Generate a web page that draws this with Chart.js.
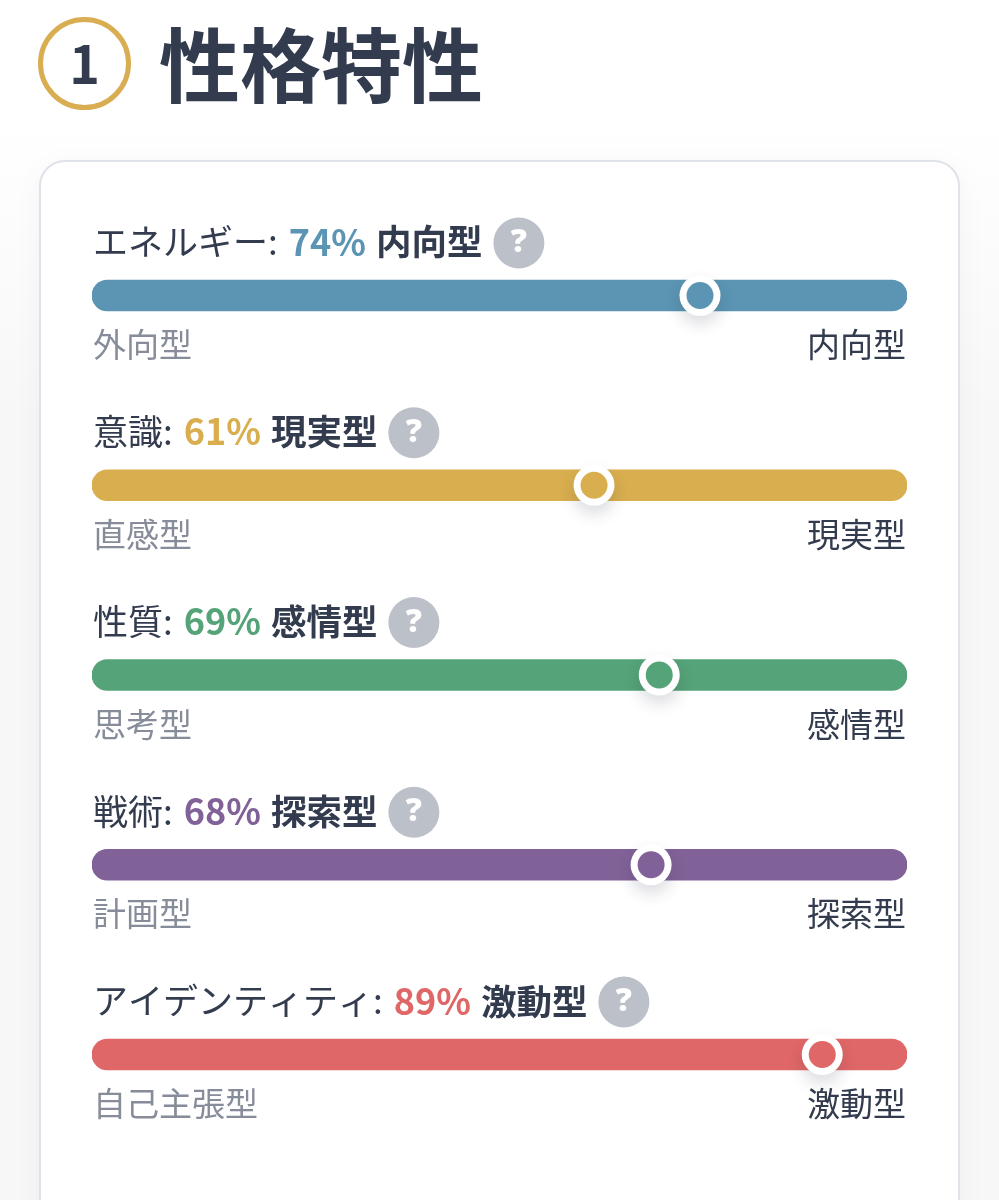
<!DOCTYPE html>
<html lang="ja">
<head>
<meta charset="utf-8">
<title>性格特性</title>
<script src="https://cdn.jsdelivr.net/npm/chart.js@4"></script>
<style>
  html, body { margin:0; padding:0; }
  body { width:999px; height:1200px; overflow:hidden; position:relative; font-family:"Noto Sans CJK JP", sans-serif;
    background:linear-gradient(#fff 0, #fff 120px, #f7f7f8 420px); }
  .badge { position:absolute; left:38px; top:17px; width:83px; height:83px; border:5px solid #d9ae52; border-radius:50%;
    text-align:center; line-height:80px; font-size:52px; font-weight:700; color:#333c4e; }
  h1 { position:absolute; left:159px; top:8px; margin:0; font-size:81px; line-height:106px; font-weight:700; color:#333c4e; }
  .card { position:absolute; left:39px; top:160px; width:917px; height:1100px; background:#fff; border:2px solid #dfe2e8;
    border-radius:26px; box-shadow:0 6px 30px rgba(40,50,70,.04); }
  canvas { position:absolute; left:0; top:0; }
</style>
</head>
<body>
<div class="badge">1</div>
<h1>性格特性</h1>
<div class="card"></div>
<canvas id="chart" width="999" height="1200"></canvas>
<script>
const traits = ['エネルギー','意識','性質','戦術','アイデンティティ'];
const values = [74,61,69,68,89];
const resultLabels = ['内向型','現実型','感情型','探索型','激動型'];
const leftLabels = ['外向型','直感型','思考型','計画型','自己主張型'];
const rightLabels = ['内向型','現実型','感情型','探索型','激動型'];
const colors = ['#5b95b3','#d9ae4f','#55a378','#816298','#e06767'];

const axisMin = -0.6, axisMax = 99.4;
const font = '"Noto Sans CJK JP", sans-serif';
const ink = '#333c4e';

// row captions and end labels, placed from the chart's own scales
const rowText = {
  id:'rowText',
  afterDraw(chart){
    const ctx = chart.ctx, x = chart.scales.x, y = chart.scales.y;
    ctx.save();
    ctx.textBaseline = 'middle';
    traits.forEach((t,i) => {
      const cy = y.getPixelForValue(i);
      const capY = cy - 53.5;
      let px = x.left + 1;
      const run = (txt, f, col, gap) => {
        ctx.font = f; ctx.fillStyle = col; ctx.textAlign = 'left';
        ctx.fillText(txt, px, capY);
        px += ctx.measureText(txt).width + gap;
      };
      run(t + ':', `400 35px ${font}`, ink, 11);
      run(values[i] + '%', `700 36px ${font}`, colors[i], 10);
      run(resultLabels[i], `700 35.5px ${font}`, ink, 11);

      // help icon
      ctx.beginPath();
      ctx.arc(px + 25.5, capY + 1, 25.5, 0, Math.PI*2);
      ctx.fillStyle = '#bcc0c9';
      ctx.fill();
      ctx.font = '800 32px "Open Sans", sans-serif';
      ctx.fillStyle = '#fff';
      ctx.textAlign = 'center';
      ctx.fillText('?', px + 25.5, capY + 1);

      ctx.font = `400 33px ${font}`;
      ctx.fillStyle = '#868c99';
      ctx.textAlign = 'left';
      ctx.fillText(leftLabels[i], x.left + 1, cy + 49);
      ctx.fillStyle = ink;
      ctx.textAlign = 'right';
      ctx.fillText(rightLabels[i], x.right - 1, cy + 49);
    });
    ctx.restore();
  },
  // only the white halo under the marker carries the soft shadow
  beforeDatasetDraw(chart, args){
    if (args.index !== 1) return;
    const ctx = chart.ctx;
    ctx.save();
    ctx.shadowColor = 'rgba(30,40,60,.16)';
    ctx.shadowBlur = 16;
    ctx.shadowOffsetY = 8;
  },
  afterDatasetDraw(chart, args){
    if (args.index === 1) chart.ctx.restore();
  }
};

new Chart(document.getElementById('chart'), {
  data:{
    labels:traits,
    datasets:[
      {
        type:'bar',
        data:traits.map(() => [axisMin, axisMax]),
        backgroundColor:colors,
        barThickness:31,
        borderRadius:15.5,
        borderSkipped:false,
        order:3
      },
      {
        type:'line',
        data:values,
        showLine:false,
        pointRadius:20.5,
        pointBorderWidth:0,
        pointBackgroundColor:'#fff',
        clip:false,
        order:2
      },
      {
        type:'line',
        data:values,
        showLine:false,
        pointRadius:13.5,
        pointBorderWidth:0,
        pointBackgroundColor:colors,
        clip:false,
        order:1
      }
    ]
  },
  options:{
    indexAxis:'y',
    responsive:false,
    animation:false,
    layout:{ padding:{ left:92, right:92, top:200.6, bottom:50.6 } },
    plugins:{ legend:{display:false}, tooltip:{enabled:false} },
    scales:{
      x:{ display:false, min:axisMin, max:axisMax },
      y:{ display:false }
    }
  },
  plugins:[rowText]
});
</script>
</body>
</html>
